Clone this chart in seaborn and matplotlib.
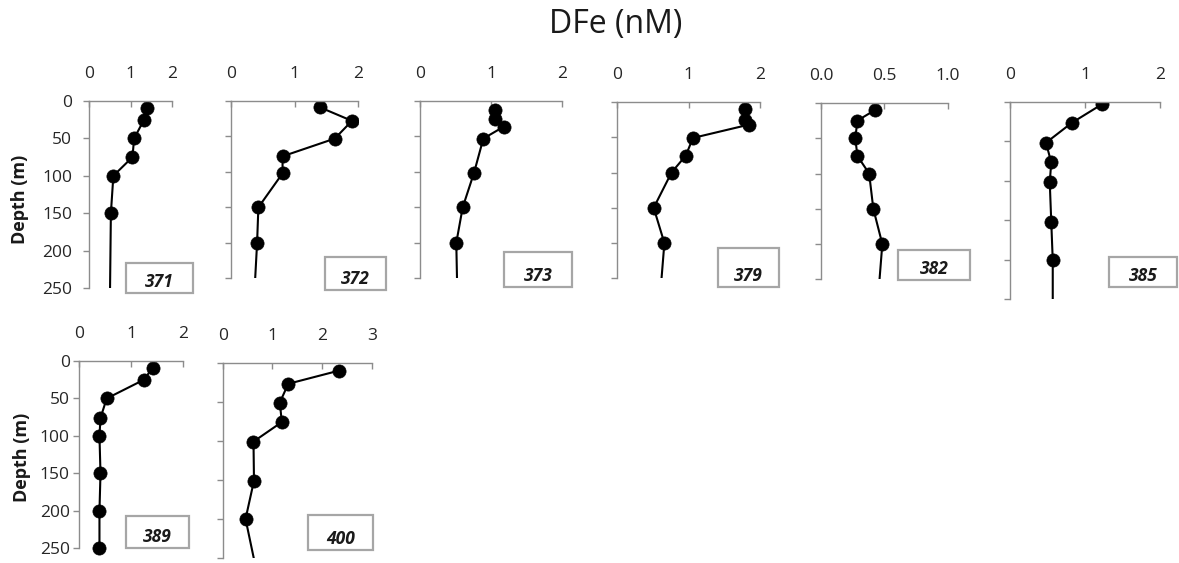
import matplotlib
matplotlib.use("Agg")
import matplotlib.pyplot as plt
import seaborn as sns
import pandas as pd
from matplotlib.patches import Rectangle

# ---------------- data (depth in m, DFe in nM) ----------------
# the last point of several profiles lies below 250 m (line runs off the axis)
st371_depth = [10, 25, 50, 75, 100, 150, 300]
st371_dfe = [1.38, 1.32, 1.08, 1.04, 0.58, 0.52, 0.49]

st372_depth = [9, 28, 53, 78, 102, 150, 200, 300]
st372_dfe = [1.40, 1.90, 1.63, 0.81, 0.81, 0.43, 0.41, 0.35]

st373_depth = [12, 25, 36, 53, 101, 150, 200, 300]
st373_dfe = [1.05, 1.05, 1.18, 0.89, 0.76, 0.60, 0.51, 0.53]

st379_depth = [10, 25, 32, 51, 76, 100, 150, 200, 300]
st379_dfe = [1.79, 1.79, 1.85, 1.06, 0.96, 0.76, 0.51, 0.66, 0.58]

st382_depth = [10, 25, 50, 75, 100, 150, 200, 300]
st382_dfe = [0.426, 0.287, 0.271, 0.287, 0.38, 0.413, 0.484, 0.44]

st385_depth = [3, 27, 52, 77, 102, 152, 201, 300]
st385_dfe = [1.23, 0.82, 0.48, 0.55, 0.53, 0.55, 0.57, 0.57]

st389_depth = [9, 25, 50, 76, 100, 150, 200, 250]
st389_dfe = [1.42, 1.25, 0.53, 0.41, 0.39, 0.41, 0.39, 0.39]

st400_depth = [10, 27, 51, 76, 101, 151, 200, 300]
st400_dfe = [2.35, 1.32, 1.15, 1.19, 0.62, 0.63, 0.46, 0.79]

stations = ["371", "372", "373", "379", "382", "385", "389", "400"]
depth_ticks = [0, 50, 100, 150, 200, 250]
dfe_ticks_2 = [0, 1, 2]
dfe_ticks_1 = [0.0, 0.5, 1.0]
dfe_ticks_3 = [0, 1, 2, 3]
dfe_ticklabels_1 = ["0.0", "0.5", "1.0"]

# ---------------- layout (pixels) ----------------
W, H = 1179, 563
GRAY = "#8c8c8c"

sns.set_theme(style="white")
plt.rcParams["font.family"] = ["Open Sans", "DejaVu Sans"]

fig = plt.figure(figsize=(W / 100, H / 100), dpi=100)

panels = [
    # station, depth, dfe, xticks, xticklabels, (x0, x1, ytop, ybot), show y labels, y pad, label box, clip
    ("371", st371_depth, st371_dfe, dfe_ticks_2, None, (89.3, 172.3, 101, 288), True, 8.0, (125.7, 262.7, 193.3, 293.3), True),
    ("372", st372_depth, st372_dfe, dfe_ticks_2, None, (231, 358.3, 101, 278.3), False, 2, (325, 257.3, 386, 290), True),
    ("373", st373_depth, st373_dfe, dfe_ticks_2, None, (420, 562.3, 101, 278.3), False, 2, (504.3, 252.3, 571.7, 287.3), True),
    ("379", st379_depth, st379_dfe, dfe_ticks_2, None, (617.3, 760, 102, 278.3), False, 2, (717.7, 248.3, 779.3, 286.7), True),
    ("382", st382_depth, st382_dfe, dfe_ticks_1, dfe_ticklabels_1, (821, 947.7, 103, 279.3), False, 2, (897.7, 250, 970, 280), True),
    ("385", st385_depth, st385_dfe, dfe_ticks_2, None, (1010, 1160, 101.7, 299), False, 2, (1109, 256.7, 1176.7, 286.7), True),
    ("389", st389_depth, st389_dfe, dfe_ticks_2, None, (79.3, 182.7, 361, 548.3), True, 2.5, (125.7, 516, 189, 548.3), False),
    ("400", st400_depth, st400_dfe, dfe_ticks_3, None, (222.7, 371.7, 362.7, 558), False, 2, (308.3, 515, 373.3, 550), True),
]

for name, depth, dfe, xt, xtl, (x0, x1, yt, yb), showy, ypad, box, clip in panels:
    ax = fig.add_axes([x0 / W, 1 - yb / H, (x1 - x0) / W, (yb - yt) / H])
    ax.patch.set_alpha(0)
    df = pd.DataFrame({"depth": depth, "dfe": dfe})
    sns.lineplot(data=df, x="dfe", y="depth", sort=False, estimator=None, orient="y",
                 color="black", marker="o", markersize=9.5, markeredgecolor="black",
                 markeredgewidth=0.5, linewidth=1.5, ax=ax, legend=False)
    for ln in ax.lines:
        ln.set_clip_on(clip)
    ax.set_xlim(xt[0], xt[-1])
    ax.set_ylim(250, 0)
    ax.set_xticks(xt)
    if xtl is not None:
        ax.set_xticklabels(xtl)
    ax.set_yticks(depth_ticks)
    ax.xaxis.set_ticks_position("top")
    ax.set_xlabel("")
    ax.set_ylabel("")
    for s in ["right", "bottom"]:
        ax.spines[s].set_visible(False)
    for s in ["top", "left"]:
        ax.spines[s].set_color(GRAY)
        ax.spines[s].set_linewidth(1.0)
    ax.tick_params(axis="x", which="both", top=True, bottom=False, labeltop=True,
                   labelbottom=False, direction="in", length=4, width=1.0, color=GRAY,
                   pad=13.5, labelsize=12.5, labelcolor="#262626")
    ax.tick_params(axis="y", left=True, direction="out", length=4.3, width=1.0, color=GRAY,
                   pad=ypad, labelsize=12.5, labelcolor="#262626", labelleft=showy)
    ax.grid(False)

    bx0, by0, bx1, by1 = box
    rect = Rectangle((bx0 / W, 1 - by1 / H), (bx1 - bx0) / W, (by1 - by0) / H,
                     transform=fig.transFigure, fill=False, edgecolor="#a6a6a6", linewidth=1.6)
    fig.add_artist(rect)
    fig.text((bx0 + bx1) / 2 / W, 1 - (by1 - 11) / H, name, ha="center", va="center",
             fontsize=12.5, fontweight="bold", fontstyle="italic", color="#1a1a1a")

fig.text(20 / W, 1 - 199 / H, "Depth (m)", rotation=90, ha="center", va="center",
         fontsize=13, fontweight="bold", color="#1a1a1a")
fig.text(22 / W, 1 - 457 / H, "Depth (m)", rotation=90, ha="center", va="center",
         fontsize=13, fontweight="bold", color="#1a1a1a")

fig.text(616 / W, 1 - 25 / H, "DFe (nM)", ha="center", va="center", fontsize=23, color="#1a1a1a")

fig.savefig("out.png", dpi=100)
